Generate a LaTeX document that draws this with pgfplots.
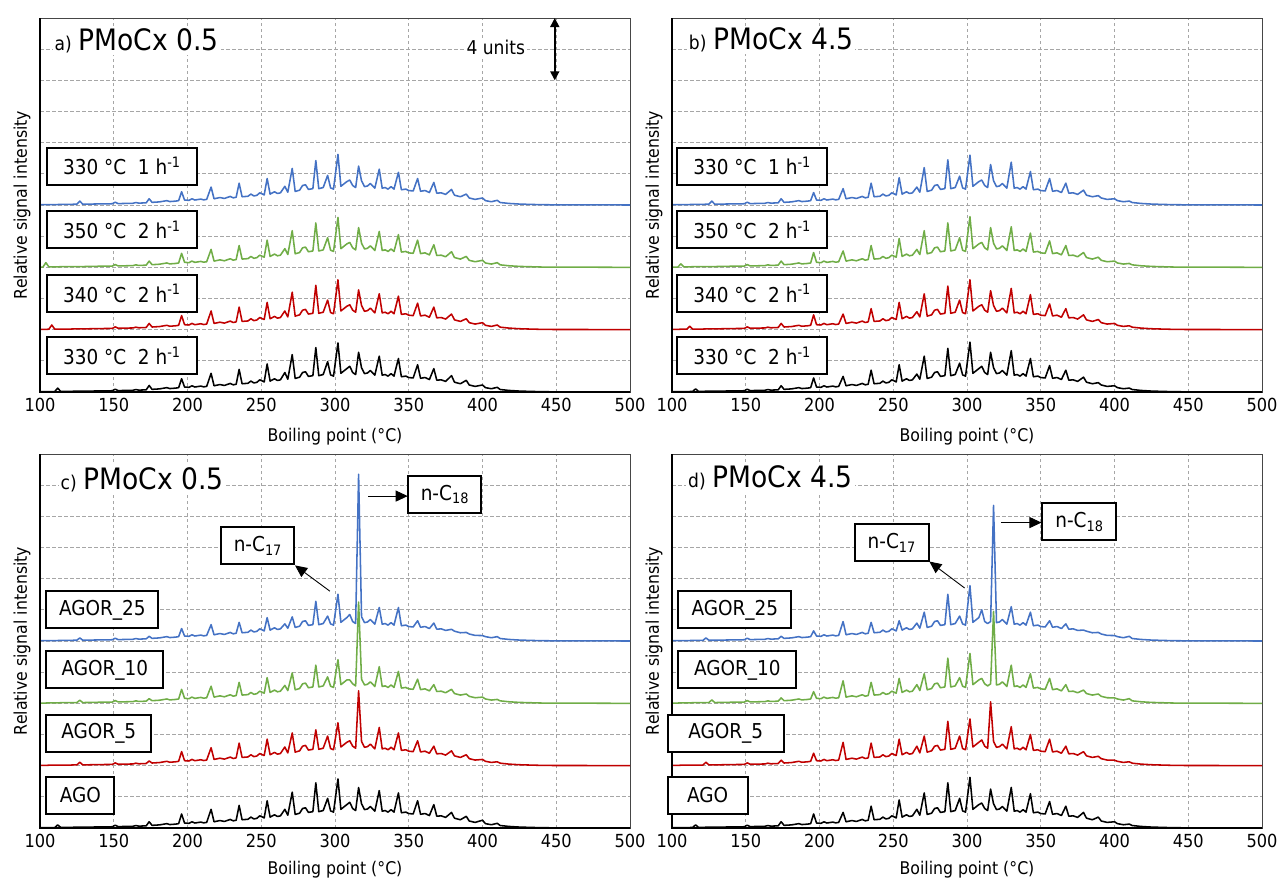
\documentclass[border=0pt]{standalone}
\usepackage{fontspec}
\setmainfont{DejaVu Sans Condensed}
\usepackage{pgfplots}
\pgfplotsset{compat=1.18}
\usepackage{pgfplotstable}
\usetikzlibrary{arrows.meta}
\definecolor{cblue}{HTML}{4472C4}
\definecolor{cgreen}{HTML}{70AD47}
\definecolor{cred}{HTML}{C00000}

% panel a
\pgfplotstableread{
x k r g b
100 0.02 0.02 0.02 0.02
102 0.02 0.02 0.02 0.02
104 0.02 0.02 0.30 0.02
106 0.03 0.03 0.03 0.03
108 0.03 0.30 0.03 0.03
110 0.03 0.03 0.03 0.03
112 0.25 0.03 0.03 0.03
114 0.04 0.04 0.04 0.04
116 0.04 0.04 0.04 0.04
118 0.04 0.04 0.04 0.04
121 0.04 0.04 0.04 0.04
123 0.05 0.05 0.05 0.05
125 0.05 0.05 0.05 0.05
127 0.05 0.05 0.05 0.25
129 0.05 0.05 0.05 0.05
135 0.06 0.06 0.06 0.06
140 0.07 0.07 0.07 0.07
149 0.08 0.08 0.08 0.08
151 0.18 0.18 0.18 0.18
153 0.09 0.09 0.09 0.09
163 0.11 0.11 0.11 0.11
165 0.16 0.16 0.16 0.16
167 0.12 0.12 0.12 0.12
172 0.14 0.14 0.14 0.14
174 0.42 0.40 0.40 0.40
176 0.17 0.17 0.17 0.17
181 0.20 0.20 0.20 0.20
186 0.28 0.28 0.28 0.28
188 0.22 0.22 0.22 0.22
192 0.25 0.25 0.25 0.25
194 0.28 0.28 0.28 0.28
196 0.85 0.90 0.90 0.85
198 0.32 0.32 0.32 0.32
201 0.30 0.30 0.30 0.30
203 0.40 0.40 0.40 0.40
205 0.32 0.32 0.32 0.32
209 0.38 0.38 0.38 0.38
211 0.33 0.33 0.33 0.33
213 0.36 0.36 0.36 0.36
216 1.20 1.20 1.15 1.15
218 0.40 0.40 0.40 0.40
222 0.48 0.48 0.48 0.48
225 0.42 0.42 0.42 0.42
229 0.55 0.55 0.55 0.55
231 0.46 0.46 0.46 0.46
233 0.50 0.50 0.50 0.50
235 1.45 1.45 1.40 1.40
237 0.53 0.53 0.53 0.53
241 0.56 0.56 0.56 0.56
243 0.70 0.70 0.70 0.70
245 0.58 0.58 0.58 0.58
247 0.62 0.62 0.62 0.62
249 0.78 0.78 0.78 0.78
252 0.65 0.65 0.65 0.65
254 1.80 1.75 1.75 1.70
256 0.70 0.70 0.70 0.70
259 0.85 0.85 0.85 0.85
261 0.74 0.74 0.74 0.74
263 0.78 0.78 0.78 0.78
266 1.25 1.20 1.20 1.20
268 0.82 0.82 0.82 0.82
271 2.40 2.40 2.35 2.35
273 0.87 0.87 0.87 0.87
276 0.95 0.95 0.95 0.95
278 1.25 1.25 1.25 1.25
280 1.30 1.30 1.30 1.30
282 1.00 1.00 1.00 1.00
285 1.05 1.05 1.05 1.05
287 2.85 2.85 2.85 2.85
289 1.05 1.05 1.05 1.05
292 1.12 1.12 1.12 1.12
295 1.95 1.90 1.90 1.90
297 1.10 1.10 1.10 1.10
299 1.02 1.02 1.02 1.02
302 3.15 3.20 3.20 3.25
304 1.20 1.20 1.20 1.20
306 1.35 1.35 1.35 1.35
308 1.50 1.50 1.50 1.50
310 1.65 1.60 1.60 1.60
312 1.25 1.25 1.25 1.25
314 1.12 1.12 1.12 1.12
316 2.55 2.55 2.55 2.50
318 1.55 1.55 1.55 1.55
320 1.18 1.18 1.18 1.18
322 1.22 1.22 1.22 1.22
324 1.38 1.38 1.38 1.38
327 1.08 1.08 1.08 1.08
330 2.30 2.30 2.30 2.30
332 1.08 1.08 1.08 1.08
334 1.12 1.12 1.12 1.12
336 1.02 1.02 1.02 1.02
338 1.18 1.18 1.18 1.18
340 1.02 1.02 1.02 1.02
343 2.15 2.15 2.10 2.10
345 0.98 0.98 0.98 0.98
348 1.02 1.02 1.02 1.02
350 0.93 0.93 0.93 0.93
353 0.90 0.90 0.90 0.90
356 1.75 1.70 1.75 1.70
358 0.88 0.88 0.88 0.88
361 0.93 0.93 0.93 0.93
364 0.80 0.80 0.80 0.80
367 1.50 1.45 1.45 1.45
369 0.76 0.76 0.76 0.76
372 0.78 0.78 0.78 0.78
375 0.68 0.68 0.68 0.68
379 1.05 1.00 1.00 1.00
381 0.63 0.63 0.63 0.63
385 0.53 0.53 0.53 0.53
389 0.75 0.70 0.70 0.70
391 0.45 0.45 0.45 0.45
395 0.36 0.36 0.36 0.36
400 0.45 0.45 0.45 0.45
402 0.28 0.28 0.28 0.28
406 0.21 0.21 0.21 0.21
410 0.30 0.30 0.30 0.30
412 0.16 0.16 0.16 0.16
418 0.10 0.10 0.10 0.10
425 0.06 0.06 0.06 0.06
432 0.04 0.04 0.04 0.04
440 0.02 0.02 0.02 0.02
450 0.01 0.01 0.01 0.01
470 0.01 0.01 0.01 0.01
500 0.00 0.00 0.00 0.00
}\tA

% panel b
\pgfplotstableread{
x k r g b
100 0.02 0.02 0.02 0.02
102 0.02 0.02 0.02 0.02
104 0.02 0.02 0.02 0.02
106 0.03 0.03 0.22 0.03
108 0.03 0.03 0.03 0.03
110 0.03 0.03 0.03 0.03
112 0.03 0.22 0.03 0.03
114 0.04 0.04 0.04 0.04
116 0.20 0.04 0.04 0.04
118 0.04 0.04 0.04 0.04
121 0.04 0.04 0.04 0.04
123 0.05 0.05 0.05 0.05
125 0.05 0.05 0.05 0.05
127 0.05 0.05 0.05 0.25
129 0.05 0.05 0.05 0.05
135 0.06 0.06 0.06 0.06
140 0.07 0.07 0.07 0.07
149 0.08 0.08 0.08 0.08
151 0.18 0.18 0.18 0.18
153 0.09 0.09 0.09 0.09
163 0.11 0.11 0.11 0.11
165 0.16 0.16 0.16 0.16
167 0.12 0.12 0.12 0.12
172 0.14 0.14 0.14 0.14
174 0.40 0.40 0.40 0.40
176 0.17 0.17 0.17 0.17
181 0.20 0.20 0.20 0.20
186 0.28 0.28 0.28 0.28
188 0.22 0.22 0.22 0.22
192 0.25 0.25 0.25 0.25
194 0.28 0.28 0.28 0.28
196 0.90 0.95 0.95 0.80
198 0.32 0.32 0.32 0.32
201 0.30 0.30 0.30 0.30
203 0.40 0.40 0.40 0.40
205 0.32 0.32 0.32 0.32
209 0.38 0.38 0.38 0.38
211 0.33 0.33 0.33 0.33
213 0.36 0.36 0.36 0.36
216 1.00 1.00 1.05 1.05
218 0.40 0.40 0.40 0.40
222 0.48 0.48 0.48 0.48
225 0.42 0.42 0.42 0.42
229 0.55 0.55 0.55 0.55
231 0.46 0.46 0.46 0.46
233 0.50 0.50 0.50 0.50
235 1.40 1.35 1.40 1.40
237 0.53 0.53 0.53 0.53
241 0.56 0.56 0.56 0.56
243 0.70 0.70 0.70 0.70
245 0.58 0.58 0.58 0.58
247 0.62 0.62 0.62 0.62
249 0.78 0.78 0.78 0.78
252 0.65 0.65 0.65 0.65
254 1.75 1.75 1.85 1.75
256 0.70 0.70 0.70 0.70
259 0.85 0.85 0.85 0.85
261 0.74 0.74 0.74 0.74
263 0.78 0.78 0.78 0.78
266 1.15 1.15 1.15 1.15
268 0.82 0.82 0.82 0.82
271 2.30 2.30 2.35 2.40
273 0.87 0.87 0.87 0.87
276 0.95 0.95 0.95 0.95
278 1.25 1.25 1.25 1.25
280 1.30 1.30 1.30 1.30
282 1.00 1.00 1.00 1.00
285 1.05 1.05 1.05 1.05
287 2.80 2.80 2.85 2.90
289 1.05 1.05 1.05 1.05
292 1.12 1.12 1.12 1.12
295 1.85 1.90 1.90 1.85
297 1.10 1.10 1.10 1.10
299 1.02 1.02 1.02 1.02
302 3.20 3.20 3.25 3.20
304 1.20 1.20 1.20 1.20
306 1.35 1.35 1.35 1.35
308 1.50 1.50 1.50 1.50
310 1.65 1.60 1.60 1.60
312 1.25 1.25 1.25 1.25
314 1.12 1.12 1.12 1.12
316 2.55 2.50 2.55 2.60
318 1.55 1.55 1.55 1.55
320 1.18 1.18 1.18 1.18
322 1.22 1.22 1.22 1.22
324 1.38 1.38 1.38 1.38
327 1.08 1.08 1.08 1.08
330 2.65 2.65 2.60 2.75
332 1.08 1.08 1.08 1.08
334 1.12 1.12 1.12 1.12
336 1.02 1.02 1.02 1.02
338 1.18 1.18 1.18 1.18
340 1.02 1.02 1.02 1.02
343 2.15 2.25 2.20 2.15
345 0.98 0.98 0.98 0.98
348 1.02 1.02 1.02 1.02
350 0.93 0.93 0.93 0.93
353 0.90 0.90 0.90 0.90
356 1.70 1.65 1.70 1.70
358 0.88 0.88 0.88 0.88
361 0.93 0.93 0.93 0.93
364 0.80 0.80 0.80 0.80
367 1.40 1.35 1.40 1.40
369 0.76 0.76 0.76 0.76
372 0.78 0.78 0.78 0.78
375 0.68 0.68 0.68 0.68
379 0.95 0.95 0.95 0.95
381 0.63 0.63 0.63 0.63
385 0.53 0.53 0.53 0.53
389 0.60 0.65 0.65 0.60
391 0.45 0.45 0.45 0.45
395 0.36 0.36 0.36 0.36
400 0.40 0.40 0.40 0.40
402 0.28 0.28 0.28 0.28
406 0.21 0.21 0.21 0.21
410 0.25 0.25 0.25 0.25
412 0.16 0.16 0.16 0.16
418 0.10 0.10 0.10 0.10
425 0.06 0.06 0.06 0.06
432 0.04 0.04 0.04 0.04
440 0.02 0.02 0.02 0.02
450 0.01 0.01 0.01 0.01
470 0.01 0.01 0.01 0.01
500 0.00 0.00 0.00 0.00
}\tB

% panel c
\pgfplotstableread{
x k r g b
100 0.02 0.02 0.02 0.02
102 0.02 0.02 0.02 0.02
104 0.02 0.02 0.02 0.02
106 0.03 0.03 0.03 0.03
108 0.03 0.03 0.03 0.03
110 0.03 0.03 0.03 0.03
112 0.20 0.03 0.03 0.03
114 0.04 0.04 0.04 0.04
116 0.04 0.04 0.04 0.04
118 0.04 0.04 0.04 0.04
121 0.04 0.04 0.04 0.04
123 0.05 0.05 0.05 0.05
125 0.05 0.05 0.05 0.05
127 0.05 0.22 0.20 0.20
129 0.05 0.05 0.05 0.05
135 0.06 0.06 0.06 0.06
140 0.07 0.07 0.07 0.07
149 0.08 0.08 0.08 0.08
151 0.18 0.18 0.18 0.18
153 0.09 0.09 0.09 0.09
163 0.11 0.11 0.11 0.11
165 0.16 0.16 0.16 0.16
167 0.12 0.12 0.12 0.12
172 0.14 0.14 0.14 0.14
174 0.40 0.30 0.30 0.30
176 0.17 0.17 0.17 0.17
181 0.20 0.20 0.20 0.20
186 0.28 0.28 0.28 0.28
188 0.22 0.22 0.22 0.22
192 0.25 0.25 0.25 0.25
194 0.28 0.28 0.28 0.28
196 0.90 0.90 0.90 0.80
198 0.32 0.32 0.32 0.32
201 0.30 0.30 0.30 0.30
203 0.40 0.40 0.40 0.40
205 0.32 0.32 0.32 0.32
209 0.38 0.38 0.38 0.38
211 0.33 0.33 0.33 0.33
213 0.36 0.36 0.36 0.36
216 1.20 1.15 1.10 1.05
218 0.40 0.40 0.40 0.40
222 0.48 0.48 0.48 0.48
225 0.42 0.42 0.42 0.42
229 0.55 0.55 0.55 0.55
231 0.46 0.46 0.46 0.46
233 0.50 0.50 0.50 0.50
235 1.45 1.45 1.35 1.20
237 0.53 0.53 0.53 0.53
241 0.56 0.56 0.56 0.56
243 0.70 0.70 0.70 0.70
245 0.58 0.58 0.58 0.58
247 0.62 0.62 0.62 0.62
249 0.78 0.78 0.78 0.78
252 0.65 0.65 0.65 0.65
254 1.75 1.70 1.65 1.50
256 0.70 0.70 0.70 0.70
259 0.85 0.85 0.85 0.85
261 0.74 0.74 0.74 0.74
263 0.78 0.78 0.78 0.78
266 1.20 1.20 1.15 1.10
268 0.82 0.82 0.82 0.82
271 2.30 2.10 1.95 1.55
273 0.87 0.87 0.87 0.87
276 0.95 0.95 0.95 0.95
278 1.25 1.25 1.25 1.25
280 1.30 1.30 1.30 1.30
282 1.00 1.00 1.00 1.00
285 1.05 1.05 1.05 1.05
287 2.90 2.30 2.45 2.55
289 1.05 1.05 1.05 1.05
292 1.12 1.12 1.12 1.12
295 1.90 1.90 1.70 1.60
297 1.10 1.10 1.10 1.10
299 1.02 1.02 1.02 1.02
302 3.15 2.75 2.80 3.00
304 1.20 1.20 1.20 1.20
306 1.35 1.35 1.35 1.35
308 1.50 1.50 1.50 1.50
310 1.65 1.60 1.50 1.70
312 1.25 1.25 1.25 1.25
314 1.12 1.12 1.12 1.12
316 2.60 4.80 6.50 10.70
318 1.55 1.55 1.55 1.55
320 1.18 1.18 1.18 1.18
322 1.22 1.22 1.22 1.22
324 1.38 1.38 1.38 1.38
327 1.08 1.08 1.08 1.08
330 2.40 2.45 2.35 2.15
332 1.08 1.08 1.08 1.08
334 1.12 1.12 1.12 1.12
336 1.02 1.02 1.02 1.02
338 1.18 1.18 1.18 1.18
340 1.02 1.02 1.02 1.02
343 2.25 2.10 2.05 2.15
345 0.98 0.98 0.98 0.98
348 1.02 1.02 1.02 1.02
350 0.93 0.93 0.93 0.93
353 0.90 0.90 0.90 0.90
356 1.75 1.60 1.55 1.30
358 0.88 0.88 0.88 0.88
361 0.93 0.93 0.93 0.93
364 0.80 0.80 0.80 0.80
367 1.50 1.25 1.20 1.15
369 0.76 0.76 0.76 0.76
372 0.78 0.78 0.78 0.78
375 0.68 0.68 0.68 0.68
379 1.00 0.95 0.90 0.75
381 0.63 0.63 0.63 0.63
385 0.53 0.53 0.53 0.53
389 0.75 0.70 0.60 0.55
391 0.45 0.45 0.45 0.45
395 0.36 0.36 0.36 0.36
400 0.50 0.40 0.40 0.35
402 0.28 0.28 0.28 0.28
406 0.21 0.21 0.21 0.21
410 0.30 0.25 0.25 0.28
412 0.16 0.16 0.16 0.16
418 0.10 0.10 0.10 0.10
425 0.06 0.06 0.06 0.06
432 0.04 0.04 0.04 0.04
440 0.02 0.02 0.02 0.02
450 0.01 0.01 0.01 0.01
470 0.01 0.01 0.01 0.01
500 0.00 0.00 0.00 0.00
}\tC

% panel d
\pgfplotstableread{
x k r g b
100 0.02 0.02 0.02 0.02
102 0.02 0.02 0.02 0.02
104 0.02 0.02 0.02 0.02
106 0.03 0.03 0.03 0.03
108 0.03 0.03 0.03 0.03
110 0.03 0.03 0.03 0.03
112 0.03 0.03 0.03 0.03
114 0.04 0.04 0.04 0.04
116 0.20 0.04 0.04 0.04
118 0.04 0.04 0.04 0.04
121 0.04 0.04 0.04 0.04
123 0.05 0.22 0.05 0.20
125 0.05 0.05 0.05 0.05
127 0.05 0.05 0.22 0.05
129 0.05 0.05 0.05 0.05
135 0.06 0.06 0.06 0.06
140 0.07 0.07 0.07 0.07
149 0.08 0.08 0.08 0.08
151 0.18 0.18 0.18 0.18
153 0.09 0.09 0.09 0.09
163 0.11 0.11 0.11 0.11
165 0.16 0.16 0.16 0.16
167 0.12 0.12 0.12 0.12
172 0.14 0.14 0.14 0.14
174 0.40 0.35 0.35 0.30
176 0.17 0.17 0.17 0.17
181 0.20 0.20 0.20 0.20
186 0.28 0.28 0.28 0.28
188 0.22 0.22 0.22 0.22
192 0.25 0.25 0.25 0.25
194 0.28 0.28 0.28 0.28
196 0.90 0.80 0.75 0.65
198 0.32 0.32 0.32 0.32
201 0.30 0.30 0.30 0.30
203 0.40 0.40 0.40 0.40
205 0.32 0.32 0.32 0.32
209 0.38 0.38 0.38 0.38
211 0.33 0.33 0.33 0.33
213 0.36 0.36 0.36 0.36
216 1.00 1.50 1.45 1.25
218 0.40 0.40 0.40 0.40
222 0.48 0.48 0.48 0.48
225 0.42 0.42 0.42 0.42
229 0.55 0.55 0.55 0.55
231 0.46 0.46 0.46 0.46
233 0.50 0.50 0.50 0.50
235 1.40 1.45 1.35 1.20
237 0.53 0.53 0.53 0.53
241 0.56 0.56 0.56 0.56
243 0.70 0.70 0.70 0.70
245 0.58 0.58 0.58 0.58
247 0.62 0.62 0.62 0.62
249 0.78 0.78 0.78 0.78
252 0.65 0.65 0.65 0.65
254 1.80 1.70 1.60 1.30
256 0.70 0.70 0.70 0.70
259 0.85 0.85 0.85 0.85
261 0.74 0.74 0.74 0.74
263 0.78 0.78 0.78 0.78
266 1.20 1.25 1.20 1.15
268 0.82 0.82 0.82 0.82
271 2.25 1.90 1.90 1.85
273 0.87 0.87 0.87 0.87
276 0.95 0.95 0.95 0.95
278 1.25 1.25 1.25 1.25
280 1.30 1.30 1.30 1.30
282 1.00 1.00 1.00 1.00
285 1.05 1.05 1.05 1.05
287 2.90 2.85 2.90 3.00
289 1.05 1.05 1.05 1.05
292 1.12 1.12 1.12 1.12
295 1.90 1.90 1.65 1.60
297 1.10 1.10 1.10 1.10
299 1.02 1.02 1.02 1.02
302 3.25 3.00 3.20 3.55
304 1.20 1.20 1.20 1.20
306 1.35 1.35 1.35 1.35
308 1.50 1.50 1.50 1.50
310 1.60 1.65 1.60 2.00
312 1.25 1.25 1.25 1.25
314 1.12 1.12 1.12 1.12
316 2.50 4.10 1.25 1.25
318 1.55 1.55 5.90 8.70
320 1.18 1.18 1.18 1.18
322 1.22 1.22 1.22 1.22
324 1.38 1.38 1.38 1.38
327 1.08 1.08 1.08 1.08
330 2.60 2.50 2.45 2.20
332 1.08 1.08 1.08 1.08
334 1.12 1.12 1.12 1.12
336 1.02 1.02 1.02 1.02
338 1.18 1.18 1.18 1.18
340 1.02 1.02 1.02 1.02
343 2.20 2.00 1.90 1.85
345 0.98 0.98 0.98 0.98
348 1.02 1.02 1.02 1.02
350 0.93 0.93 0.93 0.93
353 0.90 0.90 0.90 0.90
356 1.70 1.70 1.60 1.30
358 0.88 0.88 0.88 0.88
361 0.93 0.93 0.93 0.93
364 0.80 0.80 0.80 0.80
367 1.40 1.25 1.20 1.10
369 0.76 0.76 0.76 0.76
372 0.78 0.78 0.78 0.78
375 0.68 0.68 0.68 0.68
379 1.00 0.90 0.85 0.70
381 0.63 0.63 0.63 0.63
385 0.53 0.53 0.53 0.53
389 0.70 0.60 0.60 0.55
391 0.45 0.45 0.45 0.45
395 0.36 0.36 0.36 0.36
400 0.40 0.35 0.35 0.35
402 0.28 0.28 0.28 0.28
406 0.21 0.21 0.21 0.21
410 0.25 0.25 0.30 0.30
412 0.16 0.16 0.16 0.16
418 0.10 0.10 0.10 0.10
425 0.06 0.06 0.06 0.06
432 0.04 0.04 0.04 0.04
440 0.02 0.02 0.02 0.02
450 0.01 0.01 0.01 0.01
470 0.01 0.01 0.01 0.01
500 0.00 0.00 0.00 0.00
}\tD

\pgfplotsset{chrom/.style={
  scale only axis, width=590pt, height=374pt,
  xmin=100, xmax=500, ymin=0, ymax=24,
  xtick={100,150,...,500}, ytick={0,2,...,24}, yticklabels={},
  xmajorgrids, ymajorgrids,
  major grid style={gray!70, line width=0.8pt, dash pattern=on 3.5pt off 2.5pt},
  major tick length=0pt,
  axis line style={gray!55!black, line width=1pt},
  tick label style={font=\fontsize{18}{20}\selectfont},
  xticklabel style={yshift=-3pt},
  label style={font=\fontsize{17.5}{20}\selectfont},
  xlabel={Boiling point (°C)},
  ylabel={Relative signal intensity},
  xlabel style={at={(axis description cs:0.5,0)}, anchor=center, yshift=-45pt},
  ylabel style={at={(axis description cs:-0.0305,0.5)}, anchor=center},
  /pgf/number format/assume math mode=true,
  clip mode=individual,
  every axis plot/.append style={line width=1.55pt, line join=round, mark=none},
}}
\tikzset{
  lbl/.style={draw=black, line width=2pt, fill=white, minimum height=37pt, inner sep=0pt, anchor=west, font=\fontsize{20.5}{20}\selectfont},
  ttl/.style={anchor=base west, fill=white, inner sep=2pt},
  arr/.style={-{Triangle[length=12pt,width=11pt]}, line width=0.9pt},
}
\newcommand{\frameLB}{\draw[black, line width=2.2pt] (rel axis cs:0,1) -- (rel axis cs:0,0) -- (rel axis cs:1,0);}
\newcommand{\tl}[2]{{\fontsize{19}{19}\selectfont #1}\hspace{7pt}{\fontsize{29.5}{29}\selectfont #2}}

\begin{document}
\begin{tikzpicture}
\useasboundingbox (0,0) rectangle (1277pt,-884pt);

% ---- a
\begin{axis}[chrom, at={(40pt,-18pt)}, anchor=north west]
\addplot[black] table[x=x,y=k]{\tA};
\addplot[cred] table[x=x,y expr=\thisrow{r}+4]{\tA};
\addplot[cgreen] table[x=x,y expr=\thisrow{g}+8]{\tA};
\addplot[cblue] table[x=x,y expr=\thisrow{b}+12]{\tA};
\frameLB
\node[ttl] at (axis cs:108.5,21.9) {\tl{a)}{PMoCx 0.5}};
\node[fill=white, inner sep=2pt, font=\fontsize{19}{19}\selectfont] at (axis cs:409,22.1) {4 units};
\draw[{Triangle[length=9pt,width=9pt]}-{Triangle[length=9pt,width=9pt]}, line width=1.6pt] (axis cs:449,24) -- (axis cs:449,20);
\node[lbl, minimum width=150pt] at (axis cs:104,14.5) {330 °C\ \ 1 h\textsuperscript{-1}};
\node[lbl, minimum width=150pt] at (axis cs:104,10.4) {350 °C\ \ 2 h\textsuperscript{-1}};
\node[lbl, minimum width=150pt] at (axis cs:104,6.33) {340 °C\ \ 2 h\textsuperscript{-1}};
\node[lbl, minimum width=150pt] at (axis cs:104,2.33) {330 °C\ \ 2 h\textsuperscript{-1}};
\end{axis}

% ---- b
\begin{axis}[chrom, at={(672pt,-18pt)}, anchor=north west]
\addplot[black] table[x=x,y=k]{\tB};
\addplot[cred] table[x=x,y expr=\thisrow{r}+4]{\tB};
\addplot[cgreen] table[x=x,y expr=\thisrow{g}+8]{\tB};
\addplot[cblue] table[x=x,y expr=\thisrow{b}+12]{\tB};
\frameLB
\node[ttl] at (axis cs:110,21.95) {\tl{b)}{PMoCx 4.5}};
\node[lbl, minimum width=150pt] at (axis cs:102.8,14.5) {330 °C\ \ 1 h\textsuperscript{-1}};
\node[lbl, minimum width=150pt] at (axis cs:102.8,10.4) {350 °C\ \ 2 h\textsuperscript{-1}};
\node[lbl, minimum width=150pt] at (axis cs:102.8,6.33) {340 °C\ \ 2 h\textsuperscript{-1}};
\node[lbl, minimum width=150pt] at (axis cs:102.8,2.33) {330 °C\ \ 2 h\textsuperscript{-1}};
\end{axis}

% ---- c
\begin{axis}[chrom, at={(40pt,-454pt)}, anchor=north west, xlabel style={yshift=3pt}]
\addplot[black] table[x=x,y=k]{\tC};
\addplot[cred] table[x=x,y expr=\thisrow{r}+4]{\tC};
\addplot[cgreen] table[x=x,y expr=\thisrow{g}+8]{\tC};
\addplot[cblue] table[x=x,y expr=\thisrow{b}+12]{\tC};
\frameLB
\node[ttl] at (axis cs:112.5,21.75) {\tl{c)}{PMoCx 0.5}};
\node[lbl, minimum width=112pt] at (axis cs:103.6,14.0) {AGOR\_25};
\node[lbl, minimum width=117pt] at (axis cs:103.6,10.15) {AGOR\_10};
\node[lbl, minimum width=105pt] at (axis cs:103.6,6.08) {AGOR\_5};
\node[lbl, minimum width=68pt] at (axis cs:103.6,2.1) {AGO};
\node[lbl, anchor=center, minimum width=73pt] at (axis cs:374.5,21.4) {n-C\textsubscript{18}};
\node[lbl, anchor=center, minimum width=73pt] at (axis cs:247.7,18.1) {n-C\textsubscript{17}};
\draw[arr] (axis cs:322.4,21.3) -- (axis cs:349.3,21.3);
\draw[arr] (axis cs:296.5,15.2) -- (axis cs:272.9,16.85);
\end{axis}

% ---- d
\begin{axis}[chrom, at={(672pt,-454pt)}, anchor=north west, xlabel style={yshift=3pt}]
\addplot[black] table[x=x,y=k]{\tD};
\addplot[cred] table[x=x,y expr=\thisrow{r}+4]{\tD};
\addplot[cgreen] table[x=x,y expr=\thisrow{g}+8]{\tD};
\addplot[cblue] table[x=x,y expr=\thisrow{b}+12]{\tD};
\frameLB
\node[ttl] at (axis cs:109.5,21.85) {\tl{d)}{PMoCx 4.5}};
\node[lbl, minimum width=113pt] at (axis cs:103.6,14.0) {AGOR\_25};
\node[lbl, minimum width=118pt] at (axis cs:103.6,10.15) {AGOR\_10};
\node[lbl, minimum width=116pt] at (axis cs:96.4,6.08) {AGOR\_5};
\node[lbl, minimum width=80pt] at (axis cs:96.4,2.1) {AGO};
\node[lbl, anchor=center, minimum width=74pt] at (axis cs:376.2,19.65) {n-C\textsubscript{18}};
\node[lbl, anchor=center, minimum width=74pt] at (axis cs:249,18.3) {n-C\textsubscript{17}};
\draw[arr] (axis cs:323,19.6) -- (axis cs:350.5,19.6);
\draw[arr] (axis cs:298.4,15.4) -- (axis cs:274.5,17.1);
\end{axis}
\end{tikzpicture}
\end{document}
